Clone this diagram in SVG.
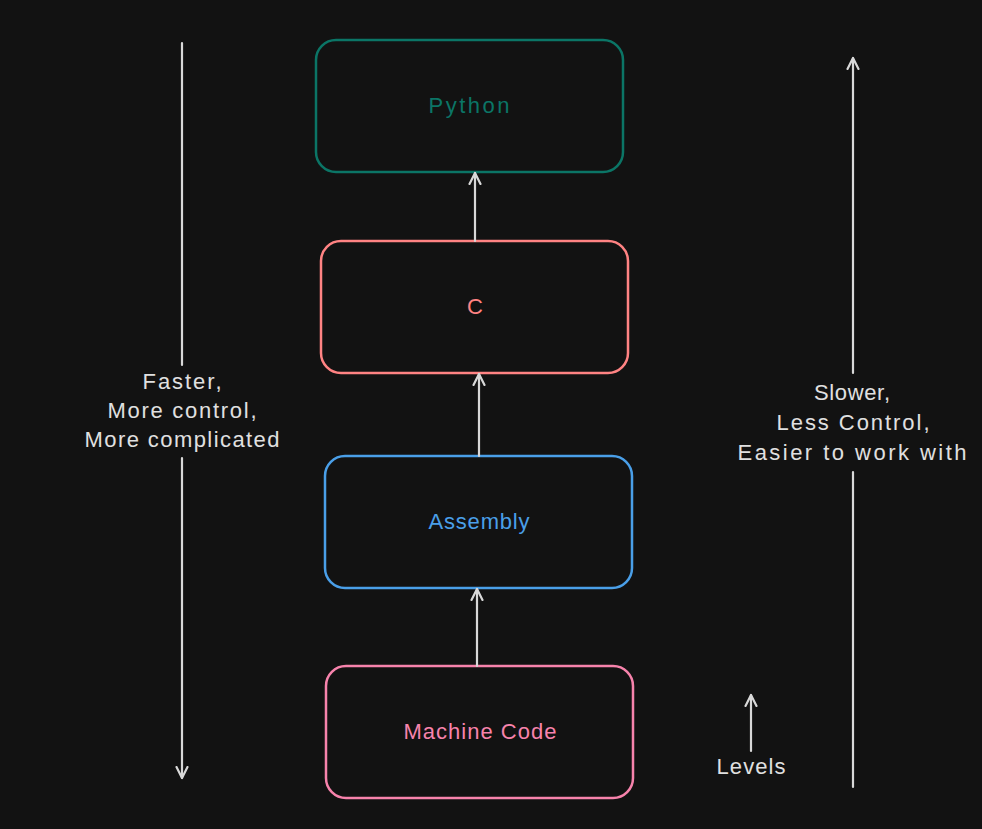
<svg xmlns="http://www.w3.org/2000/svg" width="982" height="829" viewBox="0 0 982 829">
<defs>
<style>
.box{fill:#121212;stroke-width:2.5}
.lbl{font-family:"Liberation Sans",sans-serif;font-size:22px;text-anchor:middle;dominant-baseline:central}
.ln{stroke:#d8d8d8;stroke-width:2.2;fill:none;stroke-linecap:round}
.txt{fill:#e0e0e0}
</style>
<marker id="ah" viewBox="0 0 14 14" refX="12" refY="7" markerWidth="14" markerHeight="14" markerUnits="userSpaceOnUse" orient="auto">
<path d="M1,1.5 L12,7 L1,12.5" fill="none" stroke="#d8d8d8" stroke-width="2.2" stroke-linecap="round" stroke-linejoin="round"/>
</marker>
</defs>
<rect width="982" height="829" fill="#121212"/>
<g id="python">
<rect class="box" x="316" y="40" width="307" height="132" rx="20" stroke="#0b7566"/>
<text class="lbl" x="469" y="105" fill="#0b7566" textLength="81">Python</text>
</g>
<g id="c">
<rect class="box" x="321" y="241" width="307" height="132" rx="20" stroke="#ff8383"/>
<text class="lbl" x="475" y="306" fill="#ff8383">C</text>
</g>
<g id="assembly">
<rect class="box" x="325" y="456" width="307" height="132" rx="20" stroke="#4a9fe8"/>
<text class="lbl" x="479" y="521" fill="#4a9fe8" textLength="101">Assembly</text>
</g>
<g id="machine-code">
<rect class="box" x="326" y="666" width="307" height="132" rx="20" stroke="#f783ac"/>
<text class="lbl" x="480" y="731" fill="#f783ac" textLength="153">Machine Code</text>
</g>
<g id="connectors">
<line class="ln" x1="475" y1="241" x2="475" y2="173" marker-end="url(#ah)"/>
<line class="ln" x1="479" y1="456" x2="479" y2="374" marker-end="url(#ah)"/>
<line class="ln" x1="477" y1="666" x2="477" y2="589" marker-end="url(#ah)"/>
<line class="ln" x1="182" y1="43" x2="182" y2="365"/>
<line class="ln" x1="182" y1="458" x2="182" y2="778" marker-end="url(#ah)"/>
<line class="ln" x1="853" y1="787" x2="853" y2="472"/>
<line class="ln" x1="853" y1="373" x2="853" y2="58" marker-end="url(#ah)"/>
<line class="ln" x1="751" y1="751" x2="751" y2="695" marker-end="url(#ah)"/>
</g>
<g id="left-label">
<text class="lbl txt" x="182" y="381" textLength="79">Faster,</text>
<text class="lbl txt" x="182" y="410" textLength="149">More control,</text>
<text class="lbl txt" x="182" y="439" textLength="195">More complicated</text>
</g>
<g id="right-label">
<text class="lbl txt" x="852" y="392" textLength="76">Slower,</text>
<text class="lbl txt" x="853" y="422" textLength="153">Less Control,</text>
<text class="lbl txt" x="852" y="452" textLength="229">Easier to work with</text>
</g>
<g id="levels">
<text class="lbl txt" x="751" y="766" textLength="69">Levels</text>
</g>
</svg>
